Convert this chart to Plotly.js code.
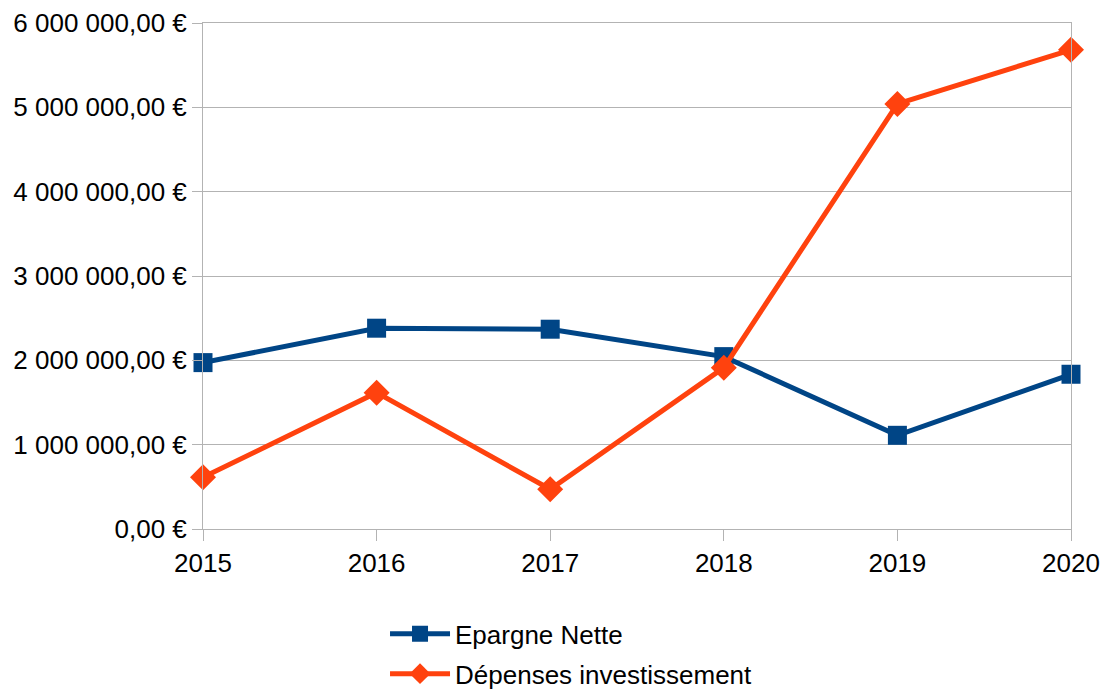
<!DOCTYPE html>
<html>
<head>
<meta charset="utf-8">
<script src="https://cdn.plot.ly/plotly-3.0.1.min.js"></script>
<style>html,body{margin:0;padding:0;background:#fff;}#chart{width:1101px;height:692px;}</style>
</head>
<body>
<div id="chart"></div>
<script>
var years = [2015, 2016, 2017, 2018, 2019, 2020];
var epargneNette = [1973000, 2381000, 2369000, 2044000, 1111000, 1835000];
var depensesInvestissement = [613000, 1617000, 471000, 1913000, 5041000, 5682000];
var yTickVals = [0, 1000000, 2000000, 3000000, 4000000, 5000000, 6000000];
var yTickText = ["0,00 €", "1 000 000,00 €", "2 000 000,00 €", "3 000 000,00 €", "4 000 000,00 €", "5 000 000,00 €", "6 000 000,00 €"];
var seriesNames = ["Epargne Nette", "Dépenses investissement"];

var font = "Liberation Sans, Arial, sans-serif";
var grid = "#b3b3b3";

var traces = [
  {x: years, y: epargneNette, name: seriesNames[0], legendgroup: "a", type: "scatter", mode: "lines+markers",
   line: {color: "#004586", width: 5}, marker: {symbol: "square", size: 19, color: "#004586"}, cliponaxis: false},
  {x: years, y: depensesInvestissement, name: seriesNames[1], legendgroup: "b", type: "scatter", mode: "lines+markers",
   line: {color: "#ff420e", width: 5}, marker: {symbol: "diamond", size: 20, color: "#ff420e"}, cliponaxis: false}
];

var layout = {
  width: 1101, height: 692,
  margin: {l: 203, r: 30, t: 23, b: 163, autoexpand: false},
  paper_bgcolor: "#fff", plot_bgcolor: "#fff",
  font: {family: font, size: 26, color: "#000"},
  showlegend: true,
  legend: {orientation: "v", x: 0.2097, xanchor: "left", y: -0.161, yanchor: "top",
           font: {family: font, size: 26, color: "#000"}, itemwidth: 60, tracegroupgap: 3,
           bgcolor: "rgba(0,0,0,0)"},
  xaxis: {range: [2015, 2020], tickvals: years, ticktext: years.map(String), showgrid: false,
          zeroline: false, showline: true, linecolor: grid, linewidth: 1, mirror: true,
          ticks: "outside", ticklen: 11, tickcolor: grid, tickwidth: 1, automargin: false,
          tickfont: {family: font, size: 26, color: "#000"}, fixedrange: true},
  yaxis: {range: [0, 6000000], tickvals: yTickVals, ticktext: yTickText, showgrid: true,
          gridcolor: grid, gridwidth: 1, zeroline: false, showline: true, linecolor: grid,
          linewidth: 1, mirror: true, ticks: "outside", ticklen: 10, tickcolor: grid, tickwidth: 1,
          automargin: false, tickfont: {family: font, size: 26, color: "#000"}, fixedrange: true}
};

Plotly.newPlot("chart", traces, layout, {displayModeBar: false, staticPlot: true});
</script>
</body>
</html>
